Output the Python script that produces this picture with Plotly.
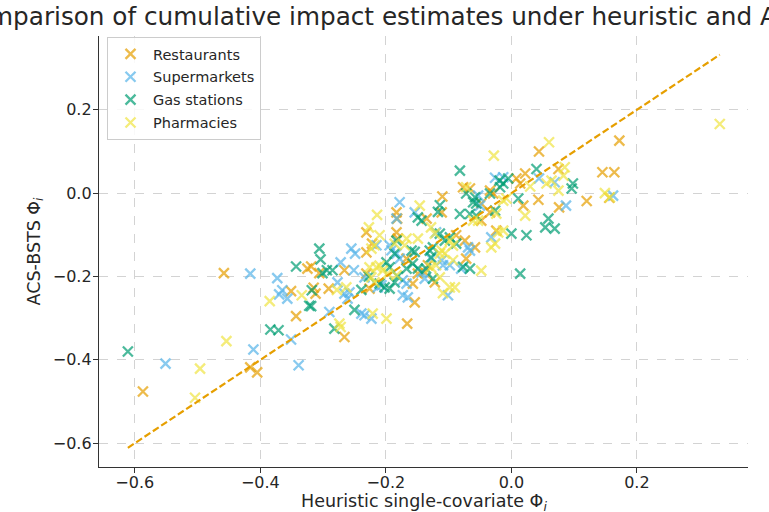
import plotly.graph_objects as go

# ---------------- data ----------------
series_names = ["Restaurants", "Supermarkets", "Gas stations", "Pharmacies"]
series_colors = ["#E69F00", "#56B4E9", "#009E73", "#F0E442"]

restaurants_x = [-0.587, -0.458, -0.416, -0.405, -0.351, -0.343, -0.325, -0.319, -0.306, -0.266,
                 -0.231, -0.222, -0.231, -0.231, -0.226, -0.291, -0.315, -0.312, -0.266, -0.183,
                 -0.182, -0.183, -0.154, -0.166, -0.077, -0.066, -0.110, 0.008, 0.022, 0.014,
                 -0.029, -0.048, -0.048, 0.019, -0.111, -0.135, -0.181, -0.088, -0.074, -0.072,
                 -0.058, -0.167, -0.149, -0.138, -0.133, -0.122, -0.157, 0.044, 0.172, 0.145,
                 0.164, 0.156, 0.120, 0.075, 0.076, 0.043, -0.034, -0.024, -0.034]
restaurants_y = [-0.476, -0.192, -0.418, -0.430, -0.235, -0.295, -0.181, -0.176, -0.192, -0.185,
                 -0.094, -0.121, -0.142, -0.193, -0.229, -0.229, -0.227, -0.241, -0.345, -0.046,
                 -0.061, -0.094, -0.262, -0.313, 0.014, 0.011, -0.008, 0.035, 0.047, 0.023,
                 -0.001, -0.025, -0.066, -0.030, -0.046, -0.061, -0.109, -0.101, -0.114, -0.157,
                 -0.130, -0.157, -0.193, -0.190, -0.173, -0.214, -0.217, 0.100, 0.126, 0.050,
                 0.050, -0.011, -0.019, 0.058, -0.034, -0.016, 0.006, -0.090, -0.046]

supermarkets_x = [-0.551, -0.416, -0.411, -0.373, -0.370, -0.365, -0.357, -0.351, -0.339, -0.272,
                  -0.255, -0.249, -0.251, -0.215, -0.213, -0.277, -0.266, -0.290, -0.234, -0.223,
                  -0.178, -0.194, -0.183, -0.234, -0.173, -0.167, -0.173, -0.207, -0.258, -0.261,
                  -0.026, -0.013, -0.053, -0.183, -0.154, -0.032, -0.120, -0.069, -0.066, -0.080,
                  -0.191, -0.128, -0.111, -0.109, -0.178, -0.143, -0.138, -0.098, -0.101, -0.165,
                  0.044, 0.069, 0.162, 0.087, -0.050, -0.239]
supermarkets_y = [-0.409, -0.193, -0.375, -0.204, -0.243, -0.233, -0.253, -0.351, -0.413, -0.166,
                  -0.133, -0.145, -0.185, -0.125, -0.226, -0.214, -0.241, -0.285, -0.293, -0.301,
                  -0.022, -0.125, -0.145, -0.202, -0.209, -0.217, -0.245, -0.221, -0.238, -0.253,
                  0.037, 0.038, -0.006, -0.061, -0.046, -0.106, -0.094, -0.130, -0.138, -0.181,
                  -0.137, -0.157, -0.161, -0.173, -0.157, -0.190, -0.205, -0.173, -0.245, -0.250,
                  0.035, 0.026, -0.006, -0.030, -0.030, -0.289]

gas_x = [-0.611, -0.384, -0.371, -0.343, -0.322, -0.319, -0.306, -0.304, -0.301, -0.294,
         -0.285, -0.318, -0.250, -0.282, -0.239, -0.227, -0.199, -0.194, -0.181, -0.186,
         -0.210, -0.202, -0.194, -0.167, -0.183, -0.082, -0.019, -0.013, -0.005, -0.072,
         -0.058, -0.061, -0.056, -0.034, -0.026, 0.011, -0.114, -0.117, -0.149, -0.143,
         -0.082, -0.066, -0.056, 0.000, 0.024, -0.114, -0.106, -0.098, -0.088, -0.066,
         -0.077, 0.014, -0.186, -0.159, -0.154, -0.130, -0.125, -0.128, -0.157, -0.149,
         -0.136, -0.125, 0.040, 0.098, 0.096, 0.059, 0.054, 0.069, -0.018]
gas_y = [-0.380, -0.327, -0.329, -0.176, -0.270, -0.271, -0.133, -0.159, -0.192, -0.185,
         -0.185, -0.233, -0.280, -0.325, -0.232, -0.200, -0.166, -0.178, -0.200, -0.214,
         -0.217, -0.226, -0.229, -0.181, -0.114, 0.054, 0.030, 0.023, 0.035, -0.001,
         -0.010, -0.022, -0.025, -0.001, -0.042, -0.013, -0.029, -0.045, -0.058, -0.066,
         -0.050, -0.050, -0.054, -0.097, -0.101, -0.097, -0.114, -0.106, -0.121, -0.181,
         -0.177, -0.193, -0.145, -0.138, -0.141, -0.138, -0.130, -0.154, -0.169, -0.181,
         -0.181, -0.205, 0.058, 0.023, 0.011, -0.061, -0.082, -0.085, 0.014]

pharmacies_x = [-0.504, -0.496, -0.454, -0.385, -0.334, -0.278, -0.263, -0.221, -0.274, -0.272,
                -0.227, -0.214, -0.218, -0.226, -0.215, -0.210, -0.167, -0.186, -0.170, -0.223,
                -0.205, -0.197, -0.183, -0.028, -0.072, -0.146, -0.061, -0.053, -0.024, 0.022,
                -0.013, -0.021, -0.032, -0.026, -0.149, -0.128, -0.122, -0.098, -0.093, -0.111,
                -0.114, -0.106, -0.093, -0.210, -0.128, -0.120, -0.114, -0.098, -0.090, -0.199,
                -0.109, -0.048, 0.060, 0.085, 0.083, 0.056, 0.064, 0.075, 0.030, 0.149,
                0.157, -0.008, -0.013, 0.332, -0.218, -0.223]
pharmacies_y = [-0.491, -0.421, -0.355, -0.259, -0.245, -0.232, -0.226, -0.289, -0.313, -0.321,
                -0.082, -0.052, -0.125, -0.178, -0.178, -0.101, -0.109, -0.121, -0.125, -0.133,
                -0.186, -0.193, -0.197, 0.090, 0.014, -0.030, -0.066, -0.066, -0.049, -0.054,
                -0.090, -0.094, -0.130, -0.121, -0.109, -0.082, -0.097, -0.114, -0.126, -0.138,
                -0.145, -0.145, -0.161, -0.174, -0.178, -0.173, -0.202, -0.226, -0.226, -0.301,
                -0.240, -0.186, 0.122, 0.062, 0.042, 0.023, 0.030, 0.006, 0.016, 0.000,
                -0.010, -0.013, -0.018, 0.166, -0.214, -0.202]

x_ticks = [-0.6, -0.4, -0.2, 0.0, 0.2]
y_ticks = [-0.6, -0.4, -0.2, 0.0, 0.2]
x_range = [-0.657, 0.377]
y_range = [-0.657, 0.377]

title_text = "Comparison of cumulative impact estimates under heuristic and ACS-BSTS"
x_title = "Heuristic single-covariate Φ<sub><i>i</i></sub>"
y_title = "ACS-BSTS Φ<sub><i>i</i></sub>"

# ---------------- figure ----------------
all_x = [restaurants_x, supermarkets_x, gas_x, pharmacies_x]
all_y = [restaurants_y, supermarkets_y, gas_y, pharmacies_y]

fig = go.Figure()
for name, color, xs, ys in zip(series_names, series_colors, all_x, all_y):
    fig.add_trace(go.Scatter(
        x=xs, y=ys, mode="markers", name=name, legendgroup=name,
        marker=dict(symbol="x-thin", size=10, color=color, opacity=0.7,
                    line=dict(width=2.3, color=color)),
    ))

flat = [v for s in all_x + all_y for v in s]
lo, hi = min(flat), max(flat)
fig.add_trace(go.Scatter(
    x=[lo, hi], y=[lo, hi], mode="lines", showlegend=False,
    line=dict(color="#E69F00", width=2.2, dash="7px,3px"),
))

axis_common = dict(
    showline=True, linecolor="#333333", linewidth=1.3, mirror=False,
    ticks="outside", ticklen=5, tickwidth=1, tickcolor="#333333",
    showgrid=True, gridcolor="#d3d3d3", gridwidth=0.8, griddash="dash",
    zeroline=False, tickfont=dict(size=16, color="#262626"),
    tickformat=".1f", automargin=False,
)

PLOT_W, PLOT_H = 649, 431

fig.update_layout(
    width=769, height=512,
    margin=dict(l=99, r=21, t=36, b=45),
    paper_bgcolor="white", plot_bgcolor="white",
    font=dict(family="DejaVu Sans", color="#262626"),
    title=dict(text=title_text, x=(418.5 - 99) / PLOT_W, xref="paper", xanchor="center",
               y=1 - 16 / 512, yref="container", yanchor="middle",
               font=dict(size=24.7, color="#262626")),
    xaxis=dict(range=x_range, tickvals=x_ticks, ticklabelstandoff=-4, **axis_common),
    yaxis=dict(range=y_range, tickvals=y_ticks, ticklabelstandoff=-2, **axis_common),
    legend=dict(x=8 / PLOT_W, y=1 - 1 / PLOT_H, xanchor="left", yanchor="top",
                bgcolor="rgba(255,255,255,0.85)", bordercolor="#cccccc", borderwidth=1,
                font=dict(size=14.5, color="#262626"), tracegroupgap=1,
                itemwidth=35),
    showlegend=True,
    annotations=[
        dict(text=x_title, xref="paper", yref="paper", x=0.5, y=-(502 - 467) / PLOT_H,
             xanchor="center", yanchor="middle", showarrow=False,
             font=dict(size=17.5, color="#262626")),
        dict(text=y_title, xref="paper", yref="paper", x=(35 - 99) / PLOT_W, y=0.5,
             xanchor="center", yanchor="middle", textangle=-90, showarrow=False,
             font=dict(size=17.5, color="#262626")),
    ],
)

fig.write_html(
    "out.html",
    config={"displayModeBar": False},
    post_script="document.body.style.margin='0';document.body.style.overflow='hidden';",
)
